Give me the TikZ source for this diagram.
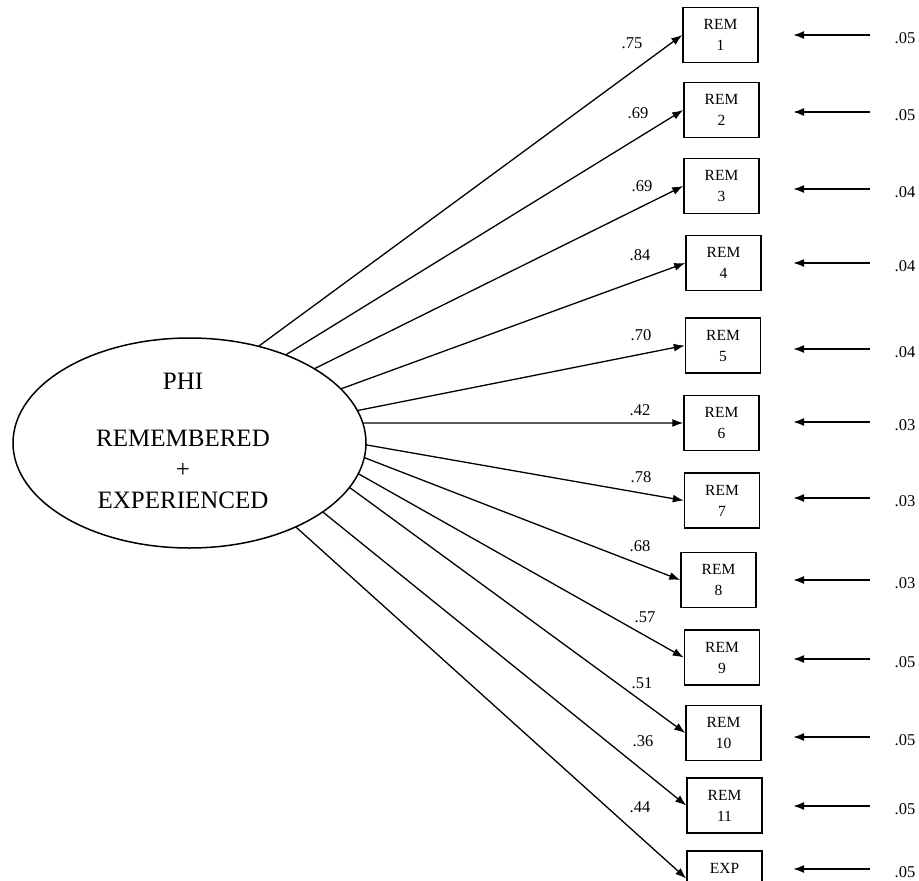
\documentclass[tikz,border=0pt]{standalone}
\usepackage{fontspec}
\setmainfont{Liberation Serif}
\usetikzlibrary{arrows.meta,calc,shapes.geometric}
\begin{document}
\begin{tikzpicture}[x=1pt,y=-1pt,
  obsbox/.style={draw,line width=1.5pt,minimum width=75pt,minimum height=55pt,inner sep=0pt,align=center,font=\fontsize{15.5}{21}\selectfont},
  load/.style={line width=1.3pt,-{Latex[length=11pt,width=8pt]}},
  resid/.style={line width=1.8pt,-{Latex[length=11pt,width=8pt]}},
  lbl/.style={font=\fontsize{16.5}{18}\selectfont,inner sep=0pt},
  ]
\useasboundingbox (0,0) rectangle (919,881);
\clip (0,0) rectangle (919,881);
\node[draw,ellipse,line width=1.5pt,minimum width=353pt,minimum height=210pt,inner sep=0pt] (phi) at (189.5,443) {};
\node[align=center,font=\fontsize{25}{31}\selectfont] (phitext) at (183,441) {PHI\\[26pt]REMEMBERED\\+\\EXPERIENCED};

\node[obsbox] (b1) at (720.5,35) {REM\\1};
\node[obsbox] (b2) at (721.5,110) {REM\\2};
\node[obsbox] (b3) at (721.5,186) {REM\\3};
\node[obsbox] (b4) at (723.5,263) {REM\\4};
\node[obsbox] (b5) at (723,345.5) {REM\\5};
\node[obsbox] (b6) at (721.5,423) {REM\\6};
\node[obsbox] (b7) at (722,500.5) {REM\\7};
\node[obsbox] (b8) at (718.5,580) {REM\\8};
\node[obsbox] (b9) at (722,657.5) {REM\\9};
\node[obsbox] (b10) at (723.5,733) {REM\\10};
\node[obsbox] (b11) at (724.5,805.5) {REM\\11};
\node[obsbox] (b12) at (724.5,878.5) {EXP\\~};

\foreach \i/\a in {1/67,2/57,3/45,4/31,5/18,6/11,7/-1,8/-8,9/-17,10/-25,11/-41,12/-53}{
  \coordinate (s\i) at ($(phi.center)+(\a:176.5pt and 105pt)$);
  \draw[load] (s\i) -- (b\i.west);
}

\node[lbl] (l1) at (632,43) {.75};
\node[lbl] (l2) at (638,113) {.69};
\node[lbl] (l3) at (642,186) {.69};
\node[lbl] (l4) at (640,255) {.84};
\node[lbl] (l5) at (641,335) {.70};
\node[lbl] (l6) at (640,410) {.42};
\node[lbl] (l7) at (641,477) {.78};
\node[lbl] (l8) at (640,546) {.68};
\node[lbl] (l9) at (645,617) {.57};
\node[lbl] (l10) at (642,683) {.51};
\node[lbl] (l11) at (643,741) {.36};
\node[lbl] (l12) at (640,807) {.44};

\foreach \i/\y/\v in {1/35/.05,2/112/.05,3/189/.04,4/263/.04,5/349/.04,6/422/.03,7/498/.03,8/580/.03,9/659/.05,10/737/.05,11/806/.05,12/869/.05}{
  \coordinate (ea\i) at (870,\y);
  \coordinate (eb\i) at (793,\y);
  \draw[resid] (ea\i) -- (eb\i);
  \node[lbl] (e\i) at (905,\y+3) {\v};
}
\end{tikzpicture}
\end{document}
